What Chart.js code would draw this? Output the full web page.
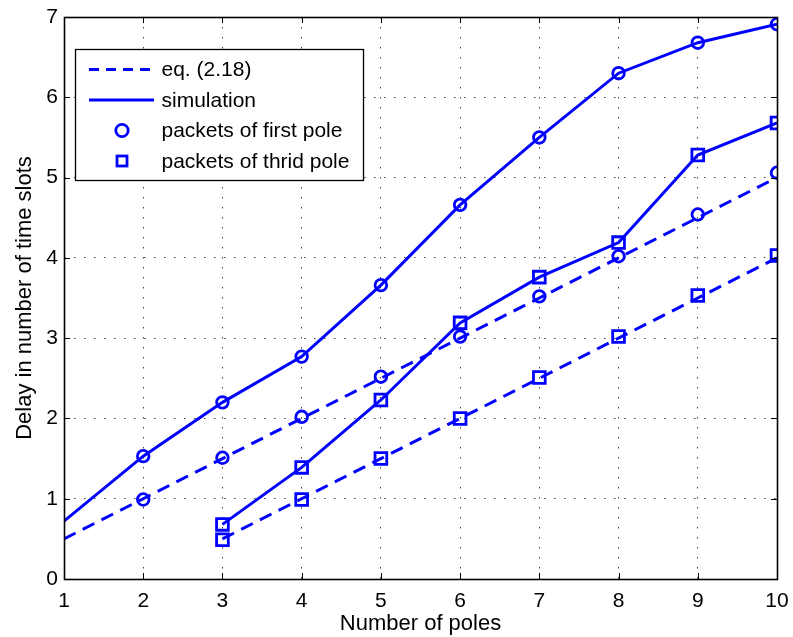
<!DOCTYPE html>
<html>
<head>
<meta charset="utf-8">
<script src="https://cdn.jsdelivr.net/npm/chart.js@4/dist/chart.umd.min.js"></script>
<style>
  html, body { margin: 0; padding: 0; background: #fff; }
  #box { width: 793px; height: 637px; }
</style>
</head>
<body>
<div id="box"><canvas id="delayChart" width="793" height="637"></canvas></div>
<script>
// number of poles / delay values
var eqFirstX = [1, 2, 3, 4, 5, 6, 7, 8, 9, 10];
var eqFirstY = [0.5, 1.0, 1.5, 2.0, 2.5, 3.0, 3.5, 4.0, 4.5, 5.0];
var eqThirdX = [3, 4, 5, 6, 7, 8, 9, 10];
var eqThirdY = [0.5, 1.0, 1.5, 2.0, 2.5, 3.0, 3.5, 4.0];

var simFirstX = [1, 2, 3, 4, 5, 6, 7, 8, 9, 10];
var simFirstY = [0.72, 1.53, 2.20, 2.77, 3.66, 4.66, 5.50, 6.30, 6.68, 6.91];
var simThirdX = [3, 4, 5, 6, 7, 8, 9, 10];
var simThirdY = [0.68, 1.39, 2.23, 3.19, 3.76, 4.19, 5.28, 5.68];

// packet measurements that sit on the eq. (2.18) curves
var pktFirstX = [2, 3, 4, 5, 6, 7, 8, 9, 10];
var pktFirstY = [0.99, 1.51, 2.02, 2.52, 3.02, 3.52, 4.02, 4.54, 5.06];
var pktThirdX = [3, 4, 5, 6, 7, 8, 9, 10];
var pktThirdY = [0.49, 0.99, 1.50, 2.00, 2.51, 3.02, 3.53, 4.03];

var xTicks = [1, 2, 3, 4, 5, 6, 7, 8, 9, 10];
var yTicks = [0, 1, 2, 3, 4, 5, 6, 7];

var legendItems = [
  { text: 'eq. (2.18)', kind: 'dash' },
  { text: 'simulation', kind: 'solid' },
  { text: 'packets of first pole', kind: 'circle' },
  { text: 'packets of thrid pole', kind: 'square' }
];

var BLUE = '#0000ff';
var FONT = "'Liberation Sans', Arial, sans-serif";

function toPoints(xs, ys) {
  var pts = [];
  for (var i = 0; i < xs.length; i++) {
    pts.push({ x: xs[i], y: ys[i] });
  }
  return pts;
}

function lineSet(xs, ys, dash, marker, skipFirst) {
  return {
    data: toPoints(xs, ys),
    borderColor: BLUE,
    borderWidth: 3,
    borderDash: dash,
    pointStyle: marker || 'circle',
    pointRadius: function(ctx) {
      if (!marker) return 0;
      if (skipFirst && ctx.dataIndex === 0) return 0;
      return marker === 'rect' ? 8.3 : 5.8;
    },
    pointBorderColor: BLUE,
    pointBorderWidth: 2.8,
    pointBackgroundColor: 'rgba(0,0,0,0)',
    pointHoverRadius: 0,
    tension: 0,
    fill: false
  };
}

function markerSet(xs, ys, marker) {
  var ds = lineSet(xs, ys, [], marker, false);
  ds.showLine = false;
  return ds;
}

// box, inward ticks and legend in the style of a MATLAB figure
var frame = {
  id: 'frame',
  afterDraw: function(chart) {
    var ctx = chart.ctx;
    var a = chart.chartArea;
    var xs = chart.scales.x, ys = chart.scales.y;
    ctx.save();
    ctx.strokeStyle = '#000';
    ctx.lineWidth = 1;
    ctx.beginPath();
    xTicks.forEach(function(v) {
      var px = Math.round(xs.getPixelForValue(v)) + 0.5;
      ctx.moveTo(px, a.bottom); ctx.lineTo(px, a.bottom - 6);
      ctx.moveTo(px, a.top); ctx.lineTo(px, a.top + 6);
    });
    yTicks.forEach(function(v) {
      var py = Math.round(ys.getPixelForValue(v)) + 0.5;
      ctx.moveTo(a.left, py); ctx.lineTo(a.left + 6, py);
      ctx.moveTo(a.right, py); ctx.lineTo(a.right - 6, py);
    });
    ctx.stroke();
    ctx.lineWidth = 1.6;
    ctx.strokeRect(Math.round(a.left) + 0.5, Math.round(a.top) + 0.5,
      Math.round(a.right - a.left), Math.round(a.bottom - a.top));

    // legend
    var lx = 75.5, ly = 49.5, lw = 288, lh = 131;
    ctx.fillStyle = '#fff';
    ctx.fillRect(lx, ly, lw, lh);
    ctx.lineWidth = 1.3;
    ctx.strokeStyle = '#000';
    ctx.strokeRect(lx, ly, lw, lh);
    ctx.font = '21px ' + FONT;
    ctx.textBaseline = 'middle';
    legendItems.forEach(function(item, i) {
      var cy = 69.5 + i * 30.5;
      ctx.strokeStyle = BLUE;
      ctx.lineWidth = 3;
      if (item.kind === 'dash' || item.kind === 'solid') {
        ctx.setLineDash(item.kind === 'dash' ? [10, 7] : []);
        ctx.beginPath();
        ctx.moveTo(89, cy); ctx.lineTo(154, cy);
        ctx.stroke();
        ctx.setLineDash([]);
      } else if (item.kind === 'circle') {
        ctx.lineWidth = 2.8;
        ctx.beginPath();
        ctx.arc(122, cy, 6.2, 0, Math.PI * 2);
        ctx.stroke();
      } else {
        ctx.lineWidth = 2.8;
        ctx.strokeRect(117, cy - 5, 10, 10);
      }
      ctx.fillStyle = '#000';
      ctx.fillText(item.text, 161.5, cy + 1);
    });
    ctx.restore();
  }
};

var config = {
  type: 'line',
  data: {
    datasets: [
      lineSet(eqFirstX, eqFirstY, [13, 8], null, false),
      lineSet(eqThirdX, eqThirdY, [13, 8], null, false),
      lineSet(simFirstX, simFirstY, [], 'circle', true),
      lineSet(simThirdX, simThirdY, [], 'rect', false),
      markerSet(pktFirstX, pktFirstY, 'circle'),
      markerSet(pktThirdX, pktThirdY, 'rect')
    ]
  },
  options: {
    responsive: false,
    animation: false,
    events: [],
    layout: { padding: { top: 17, right: 16, left: 0, bottom: 0 } },
    plugins: { legend: { display: false }, tooltip: { enabled: false } },
    scales: {
      x: {
        type: 'linear',
        min: 1, max: 10,
        afterFit: function(s) { s.height = 58; s.paddingRight = 0; },
        afterBuildTicks: function(s) { s.ticks = xTicks.map(function(v) { return { value: v }; }); },
        ticks: { color: '#000', font: { family: FONT, size: 21 }, padding: 10, maxRotation: 0 },
        grid: { color: 'rgba(0,0,0,0.75)', lineWidth: 1, drawTicks: false },
        border: { display: false, dash: [1.5, 8.5] },
        title: { display: true, text: 'Number of poles', color: '#000',
                 font: { family: FONT, size: 22 }, padding: { top: 0, bottom: 0 } }
      },
      y: {
        min: 0, max: 7,
        afterFit: function(s) { s.width = 64; s.paddingTop = 0; s.paddingBottom = 0; },
        afterBuildTicks: function(s) { s.ticks = yTicks.map(function(v) { return { value: v }; }); },
        ticks: { color: '#000', font: { family: FONT, size: 21 }, padding: 6 },
        grid: { color: 'rgba(0,0,0,0.75)', lineWidth: 1, drawTicks: false },
        border: { display: false, dash: [1.5, 8.5] },
        title: { display: true, text: 'Delay in number of time slots', color: '#000',
                 font: { family: FONT, size: 22 }, padding: { top: 12, bottom: 0 } }
      }
    }
  },
  plugins: [frame]
};

new Chart(document.getElementById('delayChart'), config);
</script>
</body>
</html>
